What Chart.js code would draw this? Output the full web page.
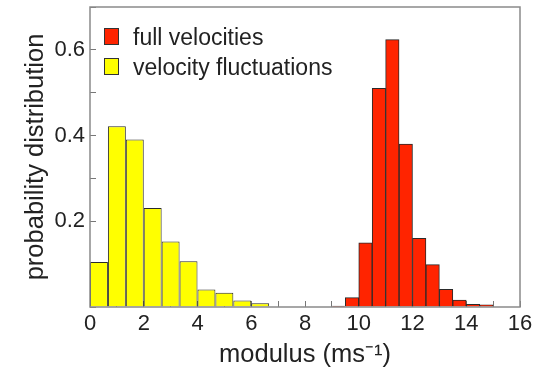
<!DOCTYPE html><html><head>
    <title>Velocity histogram</title>
    <style>
        body { margin: 0; background: #fff; }
        #wrap { width: 547px; height: 370px; position: relative; }
    </style>
</head>
<body>
    <div id="wrap"><canvas id="chart"></canvas></div>
    <script src="https://cdn.jsdelivr.net/npm/chart.js"></script>
    <script>
        Chart.defaults.font.family = "'Liberation Sans', Arial, Helvetica, sans-serif";
        Chart.defaults.color = '#222';

        // yellow: bins of 2/3 m/s, red: bins of 0.5 m/s (bin centres)
        const flucCentres = [0.333, 1.0, 1.667, 2.333, 3.0, 3.667, 4.333, 5.0, 5.667, 6.333];
        const flucValues  = [0.105, 0.422, 0.391, 0.231, 0.153, 0.107, 0.041, 0.033, 0.015, 0.009];
        const fullCentres = [9.25, 9.75, 10.25, 10.75, 11.25, 11.75, 12.25, 12.75, 13.25, 13.75, 14.25, 14.75];
        const fullValues  = [0.002, 0.022, 0.150, 0.510, 0.624, 0.380, 0.160, 0.099, 0.041, 0.016, 0.006, 0.005];
        const xTickLabels = [0, 2, 4, 6, 8, 10, 12, 14, 16];
        const yTickLabels = [0.2, 0.4, 0.6];

        function toPoints(xs, ys) {
            return xs.map((x, i) => ({x: x, y: ys[i]}));
        }

        // box round the plot + legend inside it
        const frameAndLegend = {
            id: 'frameAndLegend',
            afterDatasetsDraw(chart) {
                const {ctx, chartArea: a} = chart;
                ctx.save();
                ctx.strokeStyle = '#8a8a8a';
                ctx.lineWidth = 1.5;
                ctx.strokeRect(a.left, a.top, a.right - a.left, a.bottom - a.top);

                ctx.font = "23px 'Liberation Sans', Arial, sans-serif";
                ctx.textBaseline = 'alphabetic';
                chart.data.datasets.forEach((ds, i) => {
                    const y = a.top + 21 + i * 30;
                    ctx.fillStyle = ds.backgroundColor;
                    ctx.fillRect(a.left + 14, y, 15, 17);
                    ctx.strokeStyle = '#333';
                    ctx.lineWidth = 1;
                    ctx.strokeRect(a.left + 14.5, y + 0.5, 14, 16);
                    ctx.fillStyle = '#222';
                    ctx.fillText(ds.label, a.left + 43, y + 17);
                });
                ctx.restore();
            }
        };

        const ctx = document.getElementById('chart').getContext('2d');
        const chart = new Chart(ctx, {
            type: 'bar',
            data: {
                datasets: [{
                    label: 'full velocities',
                    data: toPoints(fullCentres, fullValues),
                    backgroundColor: '#ff2400',
                    borderColor: '#2a2a2a',
                    borderWidth: 1,
                    barPercentage: 1,
                    categoryPercentage: 1
                }, {
                    label: 'velocity fluctuations',
                    data: toPoints(flucCentres, flucValues),
                    backgroundColor: '#ffff00',
                    borderColor: '#2a2a2a',
                    borderWidth: 1,
                    barPercentage: 4 / 3,   // 2/3 wide bins vs 0.5 wide bins
                    categoryPercentage: 1
                }]
            },
            options: {
                responsive: true,
                maintainAspectRatio: false,
                animation: false,
                grouped: false,
                layout: { padding: { top: 7, right: 27, left: 0, bottom: 0 } },
                plugins: {
                    legend: { display: false },
                    tooltip: { enabled: false }
                },
                scales: {
                    x: {
                        type: 'linear',
                        min: 0, max: 16,
                        offset: false,
                        border: { display: false },
                        grid: { offset: false, drawOnChartArea: false, tickLength: -6, color: '#777' },
                        ticks: {
                            stepSize: 1,
                            padding: 10,
                            maxRotation: 0,
                            autoSkip: false,
                            font: { size: 22 },
                            callback: v => xTickLabels.includes(v) ? String(v) : ''
                        },
                        title: {
                            display: true,
                            text: 'modulus (ms⁻¹)',
                            font: { size: 25.5, lineHeight: 1.2 },
                            padding: { top: 0, bottom: 0 }
                        },
                        afterFit: s => {
                            s.height = 63;
                            s.paddingLeft = 0; s.paddingRight = 0;
                        }
                    },
                    y: {
                        min: 0, max: 0.7,
                        border: { display: false },
                        grid: { drawOnChartArea: false, tickLength: -6, color: '#777' },
                        ticks: {
                            stepSize: 0.1,
                            padding: 11,
                            font: { size: 22 },
                            callback: v => {
                                const r = Math.round(v * 10) / 10;
                                return yTickLabels.includes(r) ? String(r) : '';
                            }
                        },
                        title: {
                            display: true,
                            text: 'probability distribution',
                            font: { size: 25.5, lineHeight: 1.2 },
                            padding: { top: 21, bottom: 0 }
                        },
                        afterFit: s => {
                            s.width = 90;
                            s.paddingTop = 0; s.paddingBottom = 0;
                        }
                    }
                }
            },
            plugins: [frameAndLegend]
        });
    </script>
</body></html>
